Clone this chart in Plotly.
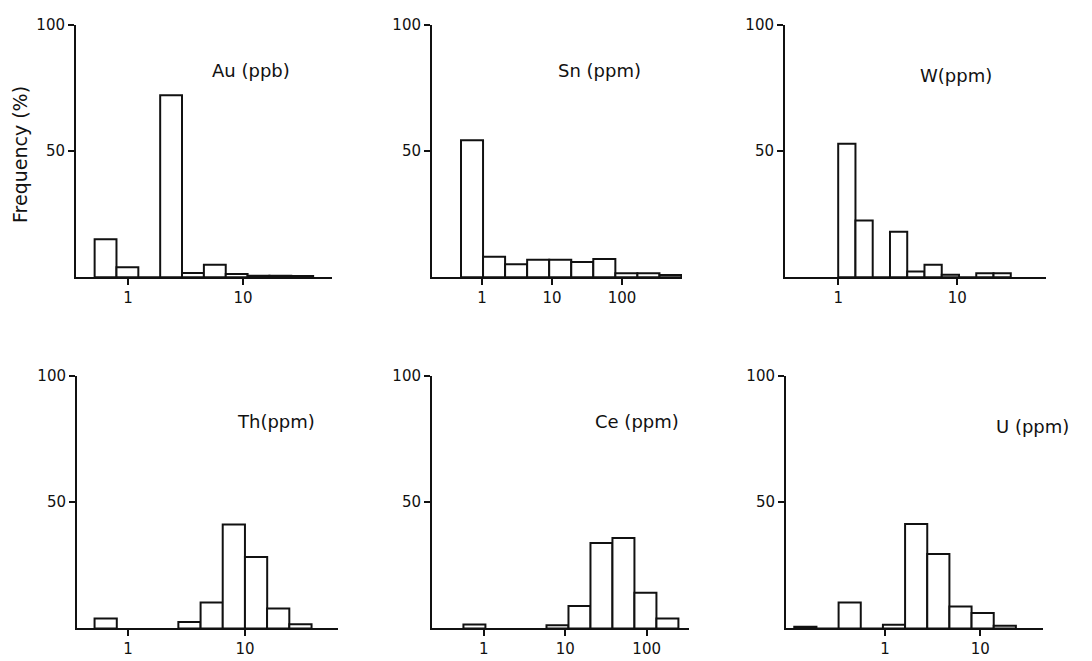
import plotly.graph_objects as go

# ---- data (bin centres in log10 units, bar heights in %) ----
au_centers = [-0.195, -0.005, 0.185, 0.375, 0.565, 0.755, 0.945, 1.135, 1.325, 1.515]
au_freq = [15.1, 4.0, 0.0, 72.1, 1.7, 5.0, 1.3, 0.6, 0.6, 0.5]
au_width = 0.19

sn_centers = [-0.1425, 0.1725, 0.4875, 0.8025, 1.1175, 1.4325, 1.7475, 2.0625, 2.3775, 2.6925]
sn_freq = [54.3, 8.1, 5.2, 6.9, 6.9, 6.1, 7.2, 1.6, 1.6, 0.9]
sn_width = 0.315

w_centers = [0.0725, 0.2175, 0.3625, 0.5075, 0.6525, 0.7975, 0.9425, 1.0875, 1.2325, 1.3775]
w_freq = [52.9, 22.5, 0.0, 18.0, 2.3, 5.0, 1.0, 0.0, 1.6, 1.6]
w_width = 0.145

th_centers = [-0.19, 0.526, 0.716, 0.905, 1.095, 1.284, 1.474]
th_freq = [3.9, 2.6, 10.3, 41.2, 28.3, 7.9, 1.7]
th_width = 0.19

ce_centers = [-0.115, 0.905, 1.175, 1.445, 1.715, 1.985, 2.255]
ce_freq = [1.6, 1.3, 8.9, 33.8, 35.8, 14.1, 3.9]
ce_width = 0.27

u_centers = [-0.8385, -0.6055, -0.3725, -0.1395, 0.0935, 0.3265, 0.5595, 0.7925, 1.0255, 1.2585]
u_freq = [0.7, 0.0, 10.3, 0.0, 1.5, 41.4, 29.5, 8.7, 6.1, 1.1]
u_width = 0.233

titles = ["Au (ppb)", "Sn (ppm)", "W(ppm)", "Th(ppm)", "Ce (ppm)", "U (ppm)"]
decade_vals = [0, 1, 2]
decade_text = ["1", "10", "100"]
y_tickvals = [50, 100]
y_ticktext = ["50", "100"]

# ---- layout geometry ----
W, H = 1092, 661
panels = [
    dict(c=au_centers, f=au_freq, w=au_width, xr=[-0.452, 1.774], px=(76, 332), row=0, nt=2),
    dict(c=sn_centers, f=sn_freq, w=sn_width, xr=[-0.714, 2.857], px=(432, 682), row=0, nt=3),
    dict(c=w_centers, f=w_freq, w=w_width, xr=[-0.447, 1.746], px=(785, 1046), row=0, nt=2),
    dict(c=th_centers, f=th_freq, w=th_width, xr=[-0.435, 1.795], px=(77, 338), row=1, nt=2),
    dict(c=ce_centers, f=ce_freq, w=ce_width, xr=[-0.636, 2.52], px=(432, 689), row=1, nt=3),
    dict(c=u_centers, f=u_freq, w=u_width, xr=[-1.042, 1.66], px=(786, 1043), row=1, nt=2),
]
row_px = [(16, 272), (372, 628)]  # (top, baseline) in pixels from top
title_pos = [(251, 62), (599, 62), (956, 67), (276, 418), (637, 418), (1032, 423)]

FONT = "DejaVu Sans"
fig = go.Figure()
layout = dict(
    width=W, height=H, autosize=False,
    margin=dict(l=0, r=0, t=0, b=0),
    paper_bgcolor="white", plot_bgcolor="white",
    showlegend=False, hovermode=False,
    font=dict(family=FONT, color="#111111", size=15),
    annotations=[],
)

for i, p in enumerate(panels):
    n = "" if i == 0 else str(i + 1)
    top, base = row_px[p["row"]]
    fig.add_trace(go.Bar(
        x=p["c"], y=p["f"], width=p["w"],
        marker=dict(color="white", line=dict(color="#111111", width=2)),
        xaxis="x" + n, yaxis="y" + n,
    ))
    layout["xaxis" + n] = dict(
        domain=[p["px"][0] / W, p["px"][1] / W],
        range=p["xr"], anchor="y" + n,
        showgrid=False, zeroline=False,
        showline=True, linecolor="#111111", linewidth=2,
        ticks="outside", ticklen=6, tickwidth=1.5, tickcolor="#111111",
        tickvals=decade_vals[:p["nt"]], ticktext=decade_text[:p["nt"]],
        tickfont=dict(family=FONT, size=15, color="#111111"),
    )
    layout["yaxis" + n] = dict(
        domain=[(H - base) / H, (H - top) / H],
        range=[0, 100], anchor="x" + n,
        showgrid=False, zeroline=False,
        showline=True, linecolor="#111111", linewidth=2,
        ticks="outside", ticklen=6, tickwidth=1.5, tickcolor="#111111",
        tickvals=y_tickvals, ticktext=y_ticktext,
        tickfont=dict(family=FONT, size=15, color="#111111"),
    )
    tx, ty = title_pos[i]
    layout["annotations"].append(dict(
        text=titles[i], x=tx / W, y=(H - ty) / H, xref="paper", yref="paper",
        showarrow=False, xanchor="center", yanchor="middle",
        font=dict(family=FONT, size=18, color="#111111"),
    ))

layout["annotations"].append(dict(
    text="Frequency (%)", x=20 / W, y=(H - 148) / H, xref="paper", yref="paper",
    showarrow=False, xanchor="center", yanchor="middle", textangle=-90,
    font=dict(family=FONT, size=19, color="#111111"),
))

fig.update_layout(**layout)
fig.write_html("out.html", config={"displayModeBar": False})
